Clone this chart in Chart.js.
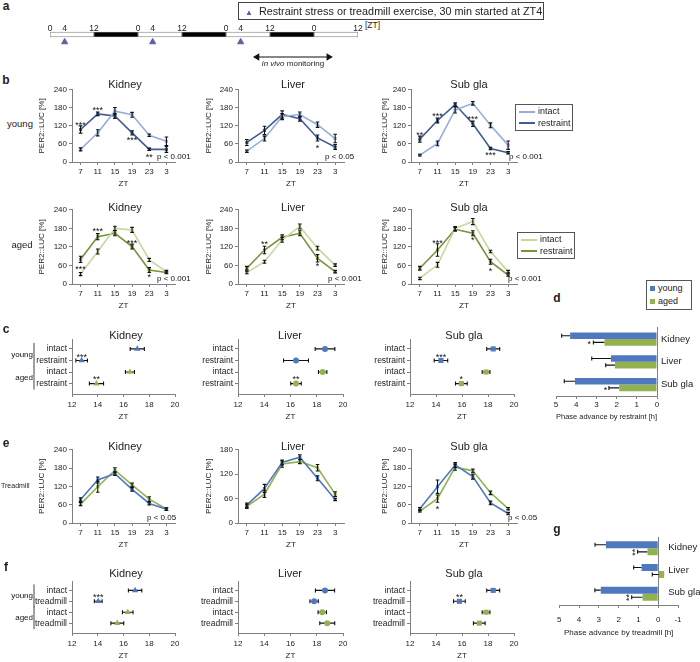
<!DOCTYPE html>
<html>
<head>
<meta charset="utf-8">
<title>PER2::LUC after restraint stress or treadmill exercise</title>
<script src="https://cdn.jsdelivr.net/npm/chart.js@4.4.1/dist/chart.umd.min.js"></script>
<style>
  body { margin: 0; background: #fff; }
  #fig { position: relative; width: 700px; height: 662px; overflow: hidden; background: #fff;
         font-family: "Liberation Sans", Arial, Helvetica, sans-serif; color: #222; }
  #fig canvas { position: absolute; }
  .lbl { position: absolute; white-space: nowrap; line-height: 1.15; }
  .legend { position: absolute; border: 1px solid #555; box-sizing: border-box; display: flex;
            flex-direction: column; justify-content: space-evenly; padding-left: 3px; font-size: 9px; }
  .legend .row { display: flex; align-items: center; white-space: nowrap; line-height: 1; }
  .legend .sw { display: inline-block; margin-right: 3px; }
</style>
</head>
<body>
<div id="fig"></div>
<script>
/* ---------- a: light/dark schedule, hours from the first ZT0 ---------- */
const lightPhases = [[0, 12], [24, 36], [48, 60], [72, 84]];
const darkPhases = [[12, 24], [36, 48], [60, 72]];
const stimulusTimes = [4, 28, 52];
const monitoringWindow = [56.5, 76];
const scheduleTicks = [0, 4, 12, 24, 28, 36, 48, 52, 60, 72, 84];

/* ---------- b, e: PER2::LUC [%] at each sampling time ---------- */
const ztLabels = ['7', '11', '15', '19', '23', '3'];

// b, young mice
const youngKidneyIntact = [42, 97, 169, 157, 89, 69];
const youngKidneyIntactErr = [5, 10, 12, 8, 4, 14];
const youngKidneyRestraint = [108, 160, 153, 97, 42, 42];
const youngKidneyRestraintErr = [12, 6, 8, 7, 4, 10];
const youngLiverIntact = [36, 78, 151, 158, 124, 78];
const youngLiverIntactErr = [4, 8, 10, 8, 9, 14];
const youngLiverRestraint = [65, 105, 158, 144, 80, 50];
const youngLiverRestraintErr = [10, 14, 12, 8, 10, 8];
const youngSubIntact = [23, 62, 173, 195, 122, 56];
const youngSubIntactErr = [3, 8, 10, 6, 8, 14];
const youngSubRestraint = [76, 138, 191, 127, 45, 31];
const youngSubRestraintErr = [10, 8, 6, 9, 4, 4];

// b, aged mice
const agedKidneyIntact = [32, 105, 180, 175, 78, 40];
const agedKidneyIntactErr = [5, 8, 7, 8, 5, 4];
const agedKidneyRestraint = [80, 153, 164, 121, 45, 37];
const agedKidneyRestraintErr = [10, 10, 8, 8, 8, 4];
const agedLiverIntact = [37, 72, 143, 186, 116, 61];
const agedLiverIntactErr = [4, 5, 8, 8, 6, 4];
const agedLiverRestraint = [51, 110, 151, 164, 83, 40];
const agedLiverRestraintErr = [6, 12, 8, 8, 12, 4];
const agedSubIntact = [18, 62, 180, 202, 105, 40];
const agedSubIntactErr = [4, 8, 6, 10, 4, 4];
const agedSubRestraint = [51, 110, 177, 164, 72, 29];
const agedSubRestraintErr = [6, 20, 6, 8, 8, 4];

// e, treadmill: young vs aged
const treadKidneyYoung = [77, 141, 162, 110, 64, 45];
const treadKidneyYoungErr = [6, 10, 6, 6, 5, 4];
const treadKidneyAged = [62, 119, 173, 125, 78, 46];
const treadKidneyAgedErr = [5, 18, 8, 6, 8, 4];
const treadLiverYoung = [44, 85, 149, 162, 110, 58];
const treadLiverYoungErr = [5, 10, 6, 6, 6, 3];
const treadLiverAged = [41, 71, 145, 151, 136, 71];
const treadLiverAgedErr = [5, 8, 8, 5, 8, 6];
const treadSubYoung = [47, 119, 190, 152, 66, 31];
const treadSubYoungErr = [4, 22, 8, 8, 6, 4];
const treadSubAged = [39, 80, 183, 171, 99, 47];
const treadSubAgedErr = [3, 12, 10, 6, 6, 4];

// significance marks: [sampling index, value, text]
const youngKidneyStars = [[0, 129, '***'], [1, 177, '***'], [3, 79, '***'], [4, 20, '**']];
const youngLiverStars = [[4, 52, '*']];
const youngSubStars = [[0, 96, '**'], [1, 158, '***'], [3, 149, '***'], [4, 27, '***']];
const agedKidneyStars = [[0, 52, '***'], [1, 177, '***'], [3, 137, '***'], [4, 28, '*']];
const agedLiverStars = [[1, 133, '**'], [4, 62, '*']];
const agedSubStars = [[1, 137, '***'], [3, 146, '*'], [4, 48, '*']];
const treadSubStars = [[1, 52, '*']];

/* ---------- c, f: peak phase [ZT]; rows young intact, young treated, aged intact, aged treated ---------- */
const restraintRows = ['intact', 'restraint', 'intact', 'restraint'];
const treadmillRows = ['intact', 'treadmill', 'intact', 'treadmill'];
const ageGroups = [['young', 1, 2], ['aged', 3, 4]];

const restraintPhaseKidney = [17.07, 12.75, 16.5, 13.9];
const restraintPhaseKidneyErr = [0.55, 0.45, 0.35, 0.55];
const restraintPhaseLiver = [18.63, 16.42, 18.45, 16.42];
const restraintPhaseLiverErr = [0.75, 0.95, 0.32, 0.4];
const restraintPhaseSub = [18.4, 14.38, 17.85, 15.95];
const restraintPhaseSubErr = [0.5, 0.52, 0.3, 0.45];
const restraintPhaseKidneyStars = [[12.75, 1.55, '***'], [13.9, 3.5, '**']];
const restraintPhaseLiverStars = [[16.42, 3.5, '**']];
const restraintPhaseSubStars = [[14.38, 1.55, '***'], [15.95, 3.5, '*']];

const treadPhaseKidney = [16.9, 14.04, 16.33, 15.52];
const treadPhaseKidneyErr = [0.52, 0.3, 0.41, 0.5];
const treadPhaseLiver = [18.63, 17.8, 18.42, 18.8];
const treadPhaseLiverErr = [0.73, 0.32, 0.32, 0.57];
const treadPhaseSub = [18.4, 15.8, 17.85, 17.33];
const treadPhaseSubErr = [0.5, 0.45, 0.3, 0.45];
const treadPhaseKidneyStars = [[14.04, 1.5, '***']];
const treadPhaseSubStars = [[15.8, 1.5, '**']];

/* ---------- d, g: phase advance [h] ---------- */
const organs = ['Kidney', 'Liver', 'Sub gla'];
const restraintAdvanceYoung = [4.3, 2.28, 4.06];
const restraintAdvanceYoungErr = [0.42, 0.95, 0.53];
const restraintAdvanceAged = [2.6, 2.08, 1.87];
const restraintAdvanceAgedErr = [0.55, 0.46, 0.51];
const restraintAdvanceStars = [[3.35, 0.15, '*'], [2.55, 2.15, '*']];
const treadmillAdvanceYoung = [2.64, 0.84, 2.9];
const treadmillAdvanceYoungErr = [0.55, 0.4, 0.3];
const treadmillAdvanceAged = [0.54, -0.3, 0.79];
const treadmillAdvanceAgedErr = [0.5, 0.6, 0.55];
const treadmillAdvanceStars = [[1.25, 0.17, '**', true], [1.55, 2.17, '**', true]];

/* ---------- colours ---------- */
const axisGray = '#808080';
const youngLight = '#95afd9', youngDark = '#3f5d93';
const agedLight = '#c5d89e', agedDark = '#77933c';
const blue = '#4f78bf', green = '#93b24f';
const fontFamily = '"Liberation Sans", Arial, Helvetica, sans-serif';

Chart.defaults.font.family = fontFamily;
Chart.defaults.font.size = 8;
Chart.defaults.color = '#222';
Chart.defaults.animation = false;
Chart.defaults.responsive = false;
Chart.defaults.layout.autoPadding = false;
Chart.defaults.plugins.legend.display = false;
Chart.defaults.plugins.tooltip.enabled = false;

// error bars, from a dataset's "errors" array
function drawErrorBars(chart, opts) {
  const ctx = chart.ctx;
  const horizontal = !!opts.horizontal;
  const scale = horizontal ? chart.scales.x : chart.scales.y;
  const cap = opts.cap ?? 2;
  ctx.save();
  ctx.strokeStyle = '#111';
  ctx.lineWidth = 1.1;
  chart.data.datasets.forEach((ds, di) => {
    if (!ds.errors) return;
    chart.getDatasetMeta(di).data.forEach((el, i) => {
      const raw = ds.data[i];
      const v = typeof raw === 'number' ? raw : (horizontal ? raw.x : raw.y);
      const e = ds.errors[i];
      const a = scale.getPixelForValue(opts.oneSided ? v : v - e);
      const b = scale.getPixelForValue(v + e);
      ctx.beginPath();
      if (horizontal) {
        ctx.moveTo(a, el.y); ctx.lineTo(b, el.y);
        ctx.moveTo(b, el.y - cap); ctx.lineTo(b, el.y + cap);
        if (!opts.oneSided) { ctx.moveTo(a, el.y - cap); ctx.lineTo(a, el.y + cap); }
      } else {
        ctx.moveTo(el.x, a); ctx.lineTo(el.x, b);
        ctx.moveTo(el.x - cap, b); ctx.lineTo(el.x + cap, b);
        ctx.moveTo(el.x - cap, a); ctx.lineTo(el.x + cap, a);
      }
      ctx.stroke();
    });
  });
  ctx.restore();
}

const errorBarPlugin = {
  id: 'errorBars',
  beforeDatasetsDraw(chart, args, opts) { if (opts.behind) drawErrorBars(chart, opts); },
  afterDatasetsDraw(chart, args, opts) { if (!opts.behind) drawErrorBars(chart, opts); }
};

// asterisks, p values, young/aged brackets and the organ names of g
const notesPlugin = {
  id: 'notes',
  afterDatasetsDraw(chart, args, opts) {
    const { ctx, chartArea, scales } = chart;
    ctx.save();
    ctx.fillStyle = '#111';
    ctx.textAlign = 'center';
    ctx.textBaseline = 'middle';
    (opts.stars || []).forEach(([xv, yv, text, turn]) => {
      ctx.save();
      ctx.font = '9px ' + fontFamily;
      ctx.translate(scales.x.getPixelForValue(xv), scales.y.getPixelForValue(yv));
      if (turn) ctx.rotate(-Math.PI / 2);
      ctx.fillText(text, 0, 2);
      ctx.restore();
    });
    if (opts.p) {
      ctx.font = '8px ' + fontFamily;
      ctx.textAlign = 'left';
      ctx.fillText(opts.p, chartArea.right - opts.pOffset, chartArea.bottom - 5);
    }
    (opts.groups || []).forEach(([text, r1, r2]) => {
      const y1 = scales.y.getPixelForValue(r1) - 6;
      const y2 = scales.y.getPixelForValue(r2) + 6;
      const x = chartArea.left - 38;
      ctx.strokeStyle = '#444';
      ctx.lineWidth = 1;
      ctx.beginPath(); ctx.moveTo(x, y1); ctx.lineTo(x, y2); ctx.stroke();
      ctx.font = '8px ' + fontFamily;
      ctx.textAlign = 'right';
      ctx.fillText(text, x - 1, (y1 + y2) / 2);
    });
    if (opts.namesAt) {
      const [zero, dx] = opts.namesAt;
      const x = scales.x.getPixelForValue(zero) + dx;
      ctx.font = '9.5px ' + fontFamily;
      ctx.fillStyle = '#222';
      ctx.textAlign = 'left';
      chart.data.labels.forEach((name, i) => ctx.fillText(name, x, scales.y.getPixelForValue(i) - 1));
    }
    ctx.restore();
  }
};

Chart.register(errorBarPlugin, notesPlugin);

const fig = document.getElementById('fig');

function makeCanvas(left, top, width, height) {
  const c = document.createElement('canvas');
  c.width = width; c.height = height;
  c.style.left = left + 'px'; c.style.top = top + 'px';
  fig.appendChild(c);
  return c;
}

function label(html, x, y, size, align, bold) {
  const d = document.createElement('div');
  d.className = 'lbl';
  d.innerHTML = html;
  d.style.left = x + 'px';
  d.style.top = y + 'px';
  d.style.fontSize = size + 'px';
  const ax = align === 'left' ? '0' : align === 'right' ? '-100%' : '-50%';
  d.style.transform = 'translate(' + ax + ', -50%)';
  if (bold) d.style.fontWeight = 'bold';
  fig.appendChild(d);
}

function legend(x, y, w, h, items, kind) {
  const box = document.createElement('div');
  box.className = 'legend';
  box.style.left = x + 'px'; box.style.top = y + 'px';
  box.style.width = w + 'px'; box.style.height = h + 'px';
  items.forEach(([text, color]) => {
    const row = document.createElement('div');
    row.className = 'row';
    const sw = document.createElement('span');
    sw.className = 'sw';
    if (kind === 'line') { sw.style.width = '16px'; sw.style.height = '2px'; }
    else { sw.style.width = '5px'; sw.style.height = '5px'; }
    sw.style.background = color;
    row.appendChild(sw);
    row.appendChild(document.createTextNode(text));
    box.appendChild(row);
  });
  fig.appendChild(box);
}

/* ---------- line charts (b, e) ---------- */
function trace(values, errors, color) {
  return {
    data: values, errors,
    borderColor: color, backgroundColor: color,
    borderWidth: 1.6, pointStyle: 'rect', pointRadius: 2.2, pointBorderWidth: 0
  };
}

function lineChart(box, yMax, datasets, stars, pText, pOffset) {
  const left = Math.round(box.titleX - 5);
  const top = box.t - 6;
  const xH = 27;
  const canvas = makeCanvas(left, top, box.r - left + box.padR, box.b - top + xH);
  return new Chart(canvas, {
    type: 'line',
    data: { labels: ztLabels, datasets },
    options: {
      layout: { padding: { left: 0, top: 6, right: box.padR, bottom: 0 } },
      plugins: { errorBars: { cap: 1.8 }, notes: { stars, p: pText, pOffset } },
      scales: {
        x: {
          offset: true,
          border: { color: axisGray },
          grid: { drawOnChartArea: false, tickLength: 3, color: axisGray },
          ticks: { padding: 2, maxRotation: 0, autoSkip: false },
          title: { display: true, text: 'ZT', padding: { top: 0, bottom: 0 } },
          afterFit: s => { s.height = xH; }
        },
        y: {
          min: 0, max: yMax,
          border: { color: axisGray },
          grid: { drawOnChartArea: false, tickLength: 3, color: axisGray },
          ticks: { stepSize: 60, padding: 2 },
          title: { display: true, text: 'PER2::LUC [%]', padding: 0 },
          afterFit: s => { s.width = box.l - left; }
        }
      }
    }
  });
}

/* ---------- phase charts (c, f) ---------- */
function phaseChart(box, values, errors, marker, rows, stars, groups) {
  const top = box.t - 6;
  const xH = 28;
  const canvas = makeCanvas(box.left, top, box.r - box.left + 8, box.b - top + xH);
  const rowColors = [blue, blue, green, green];
  return new Chart(canvas, {
    type: 'scatter',
    data: {
      datasets: [{
        data: values.map((v, i) => ({ x: v, y: i + 1 })),
        errors,
        pointStyle: marker,
        pointRadius: marker === 'circle' ? 3 : 3.6,
        pointBackgroundColor: rowColors,
        pointBorderColor: rowColors,
        pointBorderWidth: 0
      }]
    },
    options: {
      layout: { padding: { left: 0, top: 6, right: 8, bottom: 0 } },
      plugins: { errorBars: { horizontal: true, behind: true, cap: 2 }, notes: { stars, groups } },
      scales: {
        x: {
          min: 12, max: 20,
          border: { color: axisGray },
          grid: { drawOnChartArea: false, tickLength: 3, color: axisGray },
          ticks: { stepSize: 2, padding: 3 },
          title: { display: true, text: 'ZT', padding: { top: 0, bottom: 0 } },
          afterFit: s => { s.height = xH; }
        },
        y: {
          min: 0.15, max: 4.9, reverse: true,
          border: { color: axisGray },
          grid: { drawOnChartArea: false, tickLength: 3, color: axisGray },
          afterBuildTicks: s => { s.ticks = [1, 2, 3, 4].map(v => ({ value: v })); },
          ticks: { callback: v => rows[v - 1], font: { size: 8.5 }, padding: 2 },
          afterFit: s => { s.width = box.l - box.left; }
        }
      }
    }
  });
}

/* ---------- phase advance bars (d, g) ---------- */
function advanceChart(box, young, youngErr, aged, agedErr, xMin, title, stars, catPct) {
  const top = box.t - 2;
  const canvas = makeCanvas(box.l - 6, top, 700 - (box.l - 6), box.b - top + box.xH);
  // g runs past zero to -1: its axis line sits at zero and the organ names sit just right of it
  const zeroLine = xMin < 0;
  return new Chart(canvas, {
    type: 'bar',
    data: {
      labels: organs,
      datasets: [
        { label: 'young', data: young, errors: youngErr, backgroundColor: blue },
        { label: 'aged', data: aged, errors: agedErr, backgroundColor: green }
      ]
    },
    options: {
      indexAxis: 'y',
      datasets: { bar: { barPercentage: 1, categoryPercentage: catPct } },
      layout: { padding: { left: 6, top: 2, right: 0, bottom: 0 } },
      plugins: {
        errorBars: { horizontal: true, oneSided: true, behind: true, cap: 2 },
        notes: { stars, namesAt: zeroLine ? [0, 10] : null }
      },
      scales: {
        x: {
          min: xMin, max: 5, reverse: true,
          border: { color: axisGray },
          grid: {
            drawOnChartArea: zeroLine, tickLength: 3, tickColor: axisGray,
            color: c => (!zeroLine || (c.tick && c.tick.value === 0)) ? axisGray : 'rgba(0,0,0,0)'
          },
          ticks: { stepSize: 1, padding: box.tickPad },
          title: { display: true, text: title, padding: { top: 0, bottom: 0 } },
          afterFit: s => { s.height = box.xH; }
        },
        y: {
          position: 'right',
          grid: { display: false, drawTicks: false, tickLength: 0 },
          border: { display: !zeroLine, color: axisGray },
          ticks: { display: !zeroLine, padding: 4, font: { size: 9.5 } },
          afterFit: s => { s.width = 700 - box.r; }
        }
      }
    }
  });
}

/* ---------- a: schedule ---------- */
const schedule = [...lightPhases, ...darkPhases];
new Chart(makeCanvas(44, 16, 320, 50), {
  type: 'bar',
  data: {
    datasets: [
      {
        type: 'bar',
        data: schedule.map(p => ({ x: p, y: 3.5 })),
        backgroundColor: [...lightPhases.map(() => '#fff'), ...darkPhases.map(() => '#000')],
        borderColor: '#777', borderWidth: 0.8, borderSkipped: false, barThickness: 5
      },
      {
        type: 'scatter',
        data: stimulusTimes.map(t => ({ x: t, y: 11 })),
        pointStyle: 'triangle', pointRadius: 3.5,
        backgroundColor: '#5a5fa6', borderColor: '#5a5fa6'
      },
      {
        type: 'line',
        data: monitoringWindow.map(t => ({ x: t, y: 26 })),
        borderColor: '#111', borderWidth: 1.2,
        pointStyle: 'triangle', pointRadius: 3, pointRotation: [-90, 90],
        backgroundColor: '#111'
      }
    ]
  },
  options: {
    indexAxis: 'y',
    layout: { padding: { left: 6, right: 6, top: 0, bottom: 0 } },
    scales: {
      x: {
        type: 'linear', position: 'top', min: 0, max: 84,
        afterBuildTicks: s => { s.ticks = scheduleTicks.map(v => ({ value: v })); },
        ticks: { callback: v => String(v % 24), padding: -3, font: { size: 8.5 }, autoSkip: false, maxRotation: 0 },
        grid: { display: false, drawTicks: false }, border: { display: false },
        afterFit: s => { s.height = 15; }
      },
      y: { type: 'linear', min: 0, max: 35, reverse: true, offset: false, display: false }
    }
  }
});

/* ---------- b ---------- */
const lineCols = [
  { l: 72, r: 175, titleX: 42, padR: 20 },
  { l: 238, r: 344, titleX: 209, padR: 22 },
  { l: 411, r: 517, titleX: 385, padR: 34 }
];
const rowYoung = { t: 89, b: 162 };
const rowAged = { t: 209, b: 284 };
const rowTread = { t: 449, b: 523 };

lineChart({ ...lineCols[0], ...rowYoung }, 240,
  [trace(youngKidneyIntact, youngKidneyIntactErr, youngLight), trace(youngKidneyRestraint, youngKidneyRestraintErr, youngDark)],
  youngKidneyStars, 'p < 0.001', 18);
lineChart({ ...lineCols[1], ...rowYoung }, 240,
  [trace(youngLiverIntact, youngLiverIntactErr, youngLight), trace(youngLiverRestraint, youngLiverRestraintErr, youngDark)],
  youngLiverStars, 'p < 0.05', 19);
lineChart({ ...lineCols[2], ...rowYoung }, 240,
  [trace(youngSubIntact, youngSubIntactErr, youngLight), trace(youngSubRestraint, youngSubRestraintErr, youngDark)],
  youngSubStars, 'p < 0.001', 8);

lineChart({ ...lineCols[0], ...rowAged }, 240,
  [trace(agedKidneyIntact, agedKidneyIntactErr, agedLight), trace(agedKidneyRestraint, agedKidneyRestraintErr, agedDark)],
  agedKidneyStars, 'p < 0.001', 18);
lineChart({ ...lineCols[1], ...rowAged }, 240,
  [trace(agedLiverIntact, agedLiverIntactErr, agedLight), trace(agedLiverRestraint, agedLiverRestraintErr, agedDark)],
  agedLiverStars, 'p < 0.001', 16);
lineChart({ ...lineCols[2], ...rowAged }, 240,
  [trace(agedSubIntact, agedSubIntactErr, agedLight), trace(agedSubRestraint, agedSubRestraintErr, agedDark)],
  agedSubStars, 'p < 0.001', 9);

/* ---------- c ---------- */
const phaseCols = [
  { l: 72, r: 175, left: 4 },
  { l: 238, r: 343, left: 200 },
  { l: 410, r: 514, left: 372 }
];
const rowC = { t: 338, b: 394 };
const rowF = { t: 580, b: 633 };

phaseChart({ ...phaseCols[0], ...rowC }, restraintPhaseKidney, restraintPhaseKidneyErr, 'triangle', restraintRows, restraintPhaseKidneyStars, ageGroups);
phaseChart({ ...phaseCols[1], ...rowC }, restraintPhaseLiver, restraintPhaseLiverErr, 'circle', restraintRows, restraintPhaseLiverStars);
phaseChart({ ...phaseCols[2], ...rowC }, restraintPhaseSub, restraintPhaseSubErr, 'rect', restraintRows, restraintPhaseSubStars);

/* ---------- d ---------- */
advanceChart({ l: 556, r: 657, t: 320, b: 396, xH: 26, tickPad: 1 },
  restraintAdvanceYoung, restraintAdvanceYoungErr, restraintAdvanceAged, restraintAdvanceAgedErr,
  0, 'Phase advance by restraint [h]', restraintAdvanceStars, 0.58);

/* ---------- e ---------- */
lineChart({ ...lineCols[0], ...rowTread }, 240,
  [trace(treadKidneyYoung, treadKidneyYoungErr, blue), trace(treadKidneyAged, treadKidneyAgedErr, green)],
  [], 'p < 0.05', 28);
lineChart({ ...lineCols[1], ...rowTread }, 180,
  [trace(treadLiverYoung, treadLiverYoungErr, blue), trace(treadLiverAged, treadLiverAgedErr, green)],
  [], null, 0);
lineChart({ ...lineCols[2], ...rowTread }, 240,
  [trace(treadSubYoung, treadSubYoungErr, blue), trace(treadSubAged, treadSubAgedErr, green)],
  treadSubStars, 'p < 0.05', 9);

/* ---------- f ---------- */
phaseChart({ ...phaseCols[0], ...rowF }, treadPhaseKidney, treadPhaseKidneyErr, 'triangle', treadmillRows, treadPhaseKidneyStars, ageGroups);
phaseChart({ ...phaseCols[1], ...rowF }, treadPhaseLiver, treadPhaseLiverErr, 'circle', treadmillRows, []);
phaseChart({ ...phaseCols[2], ...rowF }, treadPhaseSub, treadPhaseSubErr, 'rect', treadmillRows, treadPhaseSubStars);

/* ---------- g ---------- */
advanceChart({ l: 556, r: 678, t: 537, b: 605, xH: 33, tickPad: 7 },
  treadmillAdvanceYoung, treadmillAdvanceYoungErr, treadmillAdvanceAged, treadmillAdvanceAgedErr,
  -1, 'Phase advance by treadmill [h]', treadmillAdvanceStars, 0.62);

/* ---------- text, titles, legends ---------- */
label('a', 6, 7, 12, 'center', true);
label('b', 6, 81, 12, 'center', true);
label('c', 6, 330, 12, 'center', true);
label('d', 557, 299, 12, 'center', true);
label('e', 6, 444, 12, 'center', true);
label('f', 6, 568, 12, 'center', true);
label('g', 557, 530, 12, 'center', true);

label('[ZT]', 365, 26, 8.5, 'left');
label('<i>in vivo</i> monitoring', 293, 64, 8, 'center');

label('young', 20, 124, 9.5);
label('aged', 22, 245, 9.5);
label('Treadmill', 1, 486, 7, 'left');

const lineTitleX = [125, 293, 469];
const phaseTitleX = [126, 290, 464];
[rowYoung.t - 5, 207, 446].forEach(y => {
  organs.forEach((o, i) => label(o, lineTitleX[i], y, 11));
});
[335, 573].forEach(y => {
  organs.forEach((o, i) => label(o, phaseTitleX[i], y, 11));
});

legend(515, 104, 58, 27, [['intact', youngLight], ['restraint', youngDark]], 'line');
legend(517, 232, 58, 27, [['intact', agedLight], ['restraint', agedDark]], 'line');
legend(646, 280, 46, 30, [['young', blue], ['aged', green]], 'square');

const topBox = document.createElement('div');
topBox.className = 'lbl';
topBox.style.cssText = 'left:238px;top:2px;width:306px;height:18px;border:1px solid #444;box-sizing:border-box;font-size:10.8px;line-height:16px;padding-left:6px;';
topBox.innerHTML = '<span style="color:#5a5fa6;font-size:8px;">&#9650;</span>&nbsp; Restraint stress or treadmill exercise, 30 min started at ZT4';
fig.appendChild(topBox);
</script>
</body>
</html>
